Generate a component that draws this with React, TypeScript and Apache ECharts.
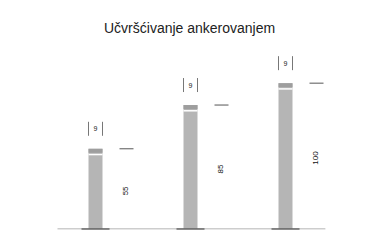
import React, { useEffect, useRef } from "react";
import * as echarts from "echarts";

const titleText = "Učvršćivanje ankerovanjem";
const anchorNames = ["Anker 1", "Anker 2", "Anker 3"];
const positions = [0.5, 1.5, 2.5];
const lengths = [55, 85, 100];
const topValues = [9, 9, 9];
const baselineRange = [0.1, 2.92];

export default function App() {
  const ref = useRef<HTMLDivElement>(null);
  useEffect(() => {
    if (!ref.current) return;
    const chart = echarts.init(ref.current, undefined, { renderer: "svg" });
    const data = anchorNames.map((n, i) => ({ name: n, value: [positions[i], lengths[i], topValues[i]] }));
    chart.setOption({
      animation: false,
      backgroundColor: "#ffffff",
      title: {
        text: titleText,
        left: 99,
        top: 16,
        textStyle: { fontFamily: "Liberation Sans", fontSize: 14, fontWeight: "normal", color: "#222" },
      },
      grid: { left: 48, right: 46, top: 54, bottom: 23 },
      xAxis: { type: "value", min: 0, max: 3, show: false },
      yAxis: { type: "value", min: 0, max: 120, show: false },
      series: [
        {
          type: "line",
          data: [[baselineRange[0], 0], [baselineRange[1], 0]],
          symbol: "none",
          lineStyle: { color: "#9a9a9a", width: 1 },
          silent: true,
          z: 1,
        },
        {
          type: "custom",
          data,
          z: 2,
          renderItem: (params: any, api: any) => {
            const x = api.value(0);
            const v = api.value(1);
            const t = api.value(2);
            const base = api.coord([x, 0]);
            const top = api.coord([x, v]);
            const cx = base[0];
            const h = base[1] - top[1];
            return {
              type: "group",
              children: [
                { type: "rect", shape: { x: cx - 7, y: top[1], width: 14, height: h }, style: { fill: "#b5b5b5" } },
                { type: "rect", shape: { x: cx - 7, y: top[1], width: 14, height: 4 }, style: { fill: "#9e9e9e" } },
                { type: "rect", shape: { x: cx - 7, y: top[1] + 5, width: 14, height: 1.5 }, style: { fill: "#ffffff" } },
                { type: "line", shape: { x1: cx - 14, y1: base[1], x2: cx + 14, y2: base[1] }, style: { stroke: "#333", lineWidth: 1 } },
                { type: "line", shape: { x1: cx + 24, y1: top[1], x2: cx + 38, y2: top[1] }, style: { stroke: "#555", lineWidth: 1 } },
                {
                  type: "text",
                  x: cx + 30,
                  y: (base[1] + top[1]) / 2 + 2,
                  rotation: Math.PI / 2,
                  style: { text: String(v), fontSize: 8, fontFamily: "Liberation Sans", fill: "#111", align: "center", verticalAlign: "middle" },
                },
                { type: "line", shape: { x1: cx - 7, y1: top[1] - 27, x2: cx - 7, y2: top[1] - 13 }, style: { stroke: "#777", lineWidth: 1 } },
                { type: "line", shape: { x1: cx + 7, y1: top[1] - 27, x2: cx + 7, y2: top[1] - 13 }, style: { stroke: "#777", lineWidth: 1 } },
                {
                  type: "text",
                  x: cx,
                  y: top[1] - 20,
                  style: { text: String(t), fontSize: 7, fontFamily: "Liberation Sans", fill: "#222", align: "center", verticalAlign: "middle" },
                },
              ],
            };
          },
        },
      ],
    });
    return () => chart.dispose();
  }, []);
  return <div ref={ref} style={{ width: 379, height: 252, position: "absolute", left: 0, top: 0 }} />;
}
